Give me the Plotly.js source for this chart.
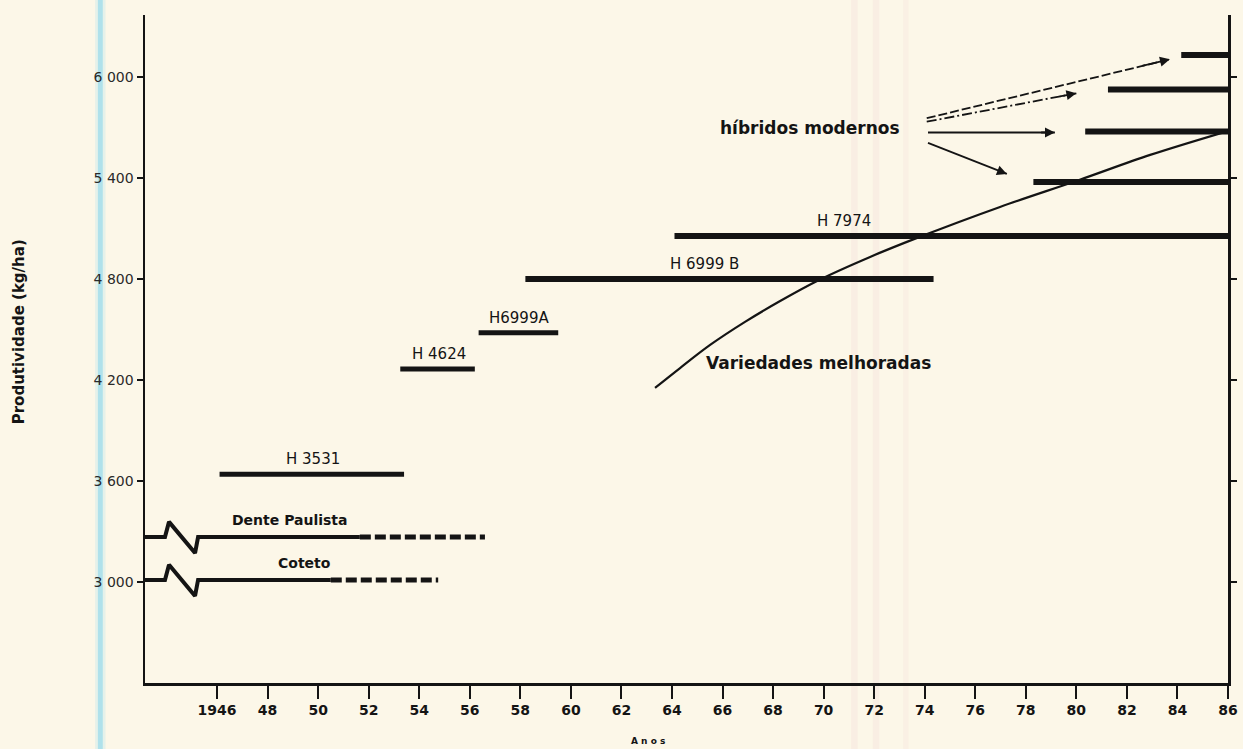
<!DOCTYPE html>
<html>
<head>
<meta charset="utf-8">
<script src="https://cdn.plot.ly/plotly-3.0.1.min.js"></script>
<style>html,body{margin:0;padding:0;background:#fcf7e8;}</style>
</head>
<body>
<div id="chart" style="width:1243px;height:749px;"></div>
<script>
// ---------- data ----------
const yearTicks = [1946,1948,1950,1952,1954,1956,1958,1960,1962,1964,1966,1968,1970,1972,1974,1976,1978,1980,1982,1984,1986];
const yearTickText = ['1946','48','50','52','54','56','58','60','62','64','66','68','70','72','74','76','78','80','82','84','86'];
const yieldTicks = [3000,3600,4200,4800,5400,6000];
const yieldTickText = ['3 000','3 600','4 200','4 800','5 400','6 000'];

// hybrids (start year, end year, yield kg/ha)
const hybridNames = ['H 3531','H 4624','H6999A','H 6999 B','H 7974'];
const hybridStart = [1946.1, 1953.25, 1956.35, 1958.2, 1964.1];
const hybridEnd   = [1953.4, 1956.2, 1959.5, 1974.35, 1986];
const hybridYield = [3640, 4265, 4480, 4800, 5055];
const hybridLabelYear = [1949.8, 1954.8, 1957.95, 1965.3, 1970.8];

// modern hybrids
const modernStart = [1978.3, 1980.35, 1981.25, 1984.15];
const modernEnd   = [1986, 1986, 1986, 1986];
const modernYield = [5376, 5676, 5926, 6131];

// open-pollinated varieties (solid period, then dashed)
const varietyNames = ['Dente Paulista','Coteto'];
const varietyYield = [3267, 3012];
const varietySolidEnd = [1951.65, 1950.5];
const varietyDashEnd = [1956.6, 1954.75];
const varietyLabelYear = [1948.9, 1949.45];
// axis-break zigzag (years, yield offsets)
const breakYears = [1943.94, 1944.1, 1945.13, 1945.25];
const breakOffsets = [0, 90, -95, 0];

// improved varieties curve
const improvedYears = [1963.33, 1964.32, 1965.51, 1966.89, 1968.28, 1969.82, 1971.84, 1973.7, 1976.98, 1980.11, 1982.92, 1986];
const improvedYield = [4153, 4271, 4408, 4545, 4669, 4794, 4931, 5044, 5228, 5388, 5537, 5679];

// arrows from "híbridos modernos" label
const arrowTailYear = [1974.08, 1974.08, 1974.13, 1974.13];
const arrowTailYield = [5755, 5734, 5670, 5608];
const arrowHeadYear = [1983.7, 1980.0, 1979.15, 1977.25];
const arrowHeadYield = [6105, 5903, 5670, 5424];
const arrowDash = ['9px,3px', '10px,3px,2px,3px', 'solid', 'solid'];

// ---------- drawing ----------
const X0 = 1943.15, X1 = 1986;
const INK = '#141414';
const FONT = 'DejaVu Sans';
const traces = [];

hybridNames.forEach((n, i) => {
  traces.push({type:'scatter', mode:'lines', x:[hybridStart[i], hybridEnd[i]], y:[hybridYield[i], hybridYield[i]],
    line:{color:INK, width: (i < 3 ? 5 : 6)}, hoverinfo:'skip', showlegend:false});
});
modernStart.forEach((s, i) => {
  traces.push({type:'scatter', mode:'lines', x:[s, modernEnd[i]], y:[modernYield[i], modernYield[i]],
    line:{color:INK, width:6}, hoverinfo:'skip', showlegend:false});
});
varietyNames.forEach((n, i) => {
  const yv = varietyYield[i];
  const xs = [X0].concat(breakYears, [varietySolidEnd[i]]);
  const ys = [yv].concat(breakOffsets.map(o => yv + o), [yv]);
  traces.push({type:'scatter', mode:'lines', x:xs, y:ys, line:{color:INK, width:4}, hoverinfo:'skip', showlegend:false});
  traces.push({type:'scatter', mode:'lines', x:[varietySolidEnd[i], varietyDashEnd[i]], y:[yv, yv],
    line:{color:INK, width:5, dash:'11px,4px'}, hoverinfo:'skip', showlegend:false});
});
traces.push({type:'scatter', mode:'lines', x:improvedYears, y:improvedYield,
  line:{color:INK, width:2.2, shape:'spline', smoothing:1}, hoverinfo:'skip', showlegend:false});
// arrow shafts
arrowTailYear.forEach((t, i) => {
  traces.push({type:'scatter', mode:'lines', x:[t, arrowHeadYear[i]], y:[arrowTailYield[i], arrowHeadYield[i]],
    line:{color:INK, width:1.8, dash:arrowDash[i]}, hoverinfo:'skip', showlegend:false});
});

const annotations = [];
hybridNames.forEach((n, i) => {
  annotations.push({x:hybridLabelYear[i], y:hybridYield[i], text:n, showarrow:false, yshift:15,
    font:{family:FONT, size:15, color:INK}});
});
varietyNames.forEach((n, i) => {
  annotations.push({x:varietyLabelYear[i], y:varietyYield[i], text:n, showarrow:false, yshift:17,
    font:{family:FONT, size:14, color:INK, weight:'bold'}});
});
annotations.push({x:1969.8, y:4300, text:'Variedades melhoradas', showarrow:false,
  font:{family:FONT, size:17, color:INK, weight:'bold'}});
annotations.push({x:1969.45, y:5697, text:'híbridos modernos', showarrow:false,
  font:{family:FONT, size:17, color:INK, weight:'bold'}});
// arrowheads
arrowTailYear.forEach((t, i) => {
  const hx = arrowHeadYear[i], hy = arrowHeadYield[i];
  annotations.push({x:hx, y:hy, ax: hx - 0.12*(hx - t), ay: hy - 0.12*(hy - arrowTailYield[i]),
    axref:'x', ayref:'y', xref:'x', yref:'y', text:'', showarrow:true,
    arrowhead:2, arrowsize:1.1, arrowwidth:1.8, arrowcolor:INK, standoff:0, startstandoff:0});
});
// axis titles
annotations.push({xref:'paper', yref:'paper', x:-0.1265, y:0.525, text:'Produtividade (kg/ha)', textangle:-90,
  showarrow:false, font:{family:FONT, size:15, color:INK, weight:'bold'}});
annotations.push({xref:'paper', yref:'paper', x:0.464, y:-0.097, text:'A n o s', showarrow:false,
  font:{family:FONT, size:9, color:INK, weight:'bold'}});

const stripe = (x, w, color) => ({type:'rect', xref:'paper', yref:'paper', x0:x, x1:x + w, y0:-0.1, y1:1.03,
  fillcolor:color, line:{width:0}, layer:'below'});

const layout = {
  width:1243, height:749,
  margin:{l:145, r:15, t:15, b:66},
  paper_bgcolor:'#fcf7e8', plot_bgcolor:'rgba(0,0,0,0)',
  showlegend:false,
  xaxis:{range:[X0, X1], showgrid:false, zeroline:false, showline:true, linewidth:2.5, linecolor:INK,
    ticks:'outside', ticklen:13, tickwidth:2, tickcolor:INK, tickvals:yearTicks, ticktext:yearTickText,
    tickfont:{family:FONT, size:14, color:INK, weight:'bold'}, fixedrange:true},
  yaxis:{range:[2400, 6368], showgrid:false, zeroline:false, showline:true, linewidth:2.5, linecolor:INK,
    mirror:'ticks', ticks:'outside', ticklen:6, tickwidth:2, tickcolor:INK,
    tickvals:yieldTicks, ticktext:yieldTickText,
    tickfont:{family:FONT, size:14, color:'#2a2a2a'}, fixedrange:true},
  annotations:annotations,
  shapes:[
    stripe(-0.0435, 0.0045, 'rgba(120,210,235,0.55)'),
    stripe(-0.046, 0.0095, 'rgba(160,225,240,0.25)'),
    stripe(0.652, 0.006, 'rgba(240,200,205,0.18)'),
    stripe(0.672, 0.006, 'rgba(240,200,205,0.18)'),
    stripe(0.700, 0.005, 'rgba(240,200,205,0.15)')
  ]
};

Plotly.newPlot('chart', traces, layout, {staticPlot:true, displayModeBar:false});
</script>
</body>
</html>
